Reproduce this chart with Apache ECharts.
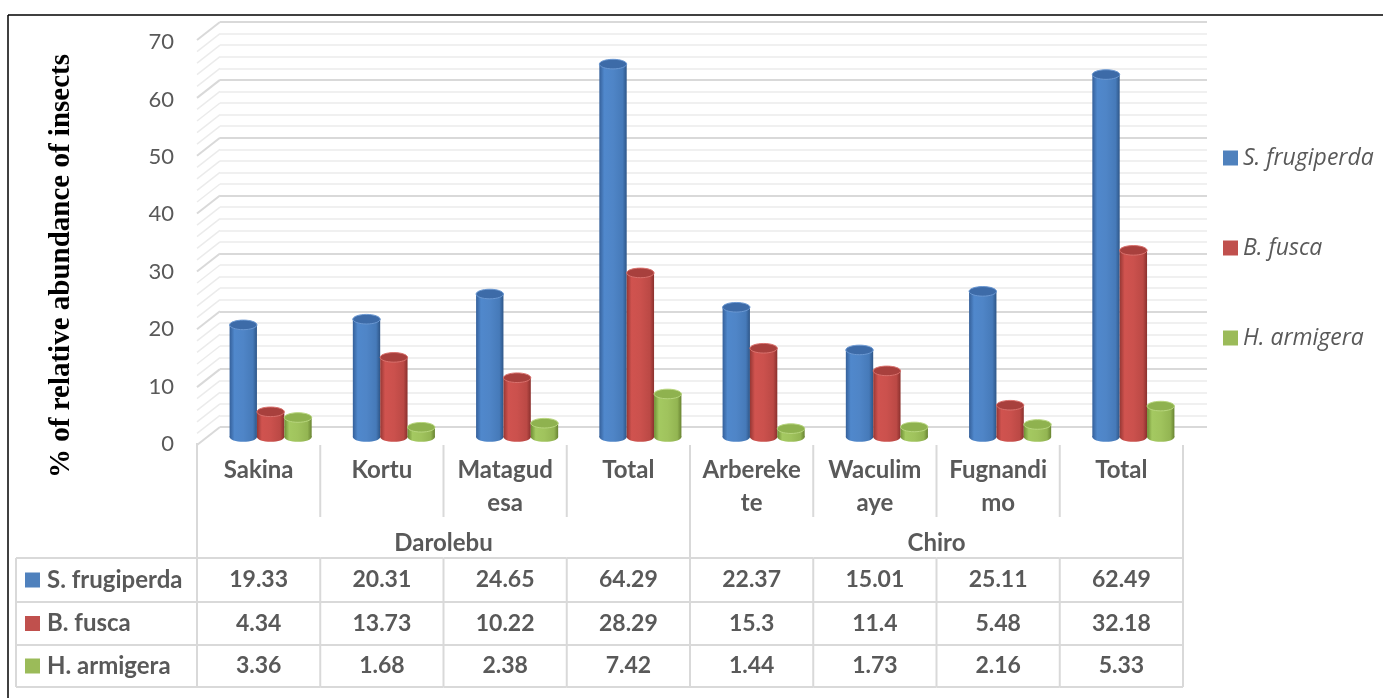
<!DOCTYPE html>
<html>
<head>
<meta charset="utf-8">
<script src="https://cdn.jsdelivr.net/npm/echarts@6/dist/echarts.min.js"></script>
<style>html,body{margin:0;padding:0;background:#fff}#c{width:1383px;height:698px}</style>
</head>
<body>
<div id="c"></div>
<script>
// ---------------- data ----------------
const categories = ['Sakina', 'Kortu', 'Matagudesa', 'Total', 'Arberekete', 'Waculimaye', 'Fugnandimo', 'Total'];
const categoryLabels = ['Sakina', 'Kortu', 'Matagud\nesa', 'Total', 'Arbereke\nte', 'Waculim\naye', 'Fugnandi\nmo', 'Total'];
const groups = ['Darolebu', 'Chiro'];
const seriesNames = ['S. frugiperda', 'B. fusca', 'H. armigera'];
const sFrugiperda = [19.33, 20.31, 24.65, 64.29, 22.37, 15.01, 25.11, 62.49];
const bFusca = [4.34, 13.73, 10.22, 28.29, 15.3, 11.4, 5.48, 32.18];
const hArmigera = [3.36, 1.68, 2.38, 7.42, 1.44, 1.73, 2.16, 5.33];
const yTicks = [0, 10, 20, 30, 40, 50, 60, 70];
const wallLevels = [0, 2, 4, 6, 8, 10, 12, 14, 16, 18, 20, 22, 24, 26, 28, 30, 32, 34, 36, 38, 40,
  42, 44, 46, 48, 50, 52, 54, 56, 58, 60, 62, 64, 66, 68, 70];

// ---------------- styles ----------------
const seriesValues = [sFrugiperda, bFusca, hArmigera];
const palette = [
  { base: '#4f81bd', stops: ['#35609a', '#5088cc', '#4f85c7', '#467ab9', '#2e5688'], top: '#3d6ba8', rim: '#6b98d2' },
  { base: '#c0504d', stops: ['#963734', '#d0534f', '#cb514d', '#bb4945', '#8a302d'], top: '#a8403d', rim: '#d9716d' },
  { base: '#9bbb59', stops: ['#6f8f35', '#a4c961', '#a0c35d', '#93b552', '#698432'], top: '#8fb24f', rim: '#b8d67e' }
];
const gridColor = '#d9d9d9';
const minorColor = '#ebebeb';
const textColor = '#595959';
const uiFont = 'Lato, "Open Sans", sans-serif';

function cylinder(si) {
  return function (params, api) {
    const ci = api.value(0), v = api.value(1);
    const base = api.coord([ci, 0]);
    const top = api.coord([ci, v]);
    const cw = api.size([1, 0])[0];
    const bw = cw * 0.222;
    const x = base[0] - 1.5 * bw + si * bw;
    const cx = x + bw / 2, rx = bw / 2, ry = 4.8;
    const c = palette[si];
    const grad = {
      type: 'linear', x: 0, y: 0, x2: 1, y2: 0,
      colorStops: [
        { offset: 0, color: c.stops[0] }, { offset: 0.18, color: c.stops[1] },
        { offset: 0.5, color: c.stops[2] }, { offset: 0.85, color: c.stops[3] },
        { offset: 1, color: c.stops[4] }
      ]
    };
    return {
      type: 'group',
      children: [
        { type: 'ellipse', shape: { cx: cx, cy: base[1], rx: rx, ry: ry }, style: { fill: grad } },
        { type: 'rect', shape: { x: x, y: top[1], width: bw, height: base[1] - top[1] }, style: { fill: grad } },
        { type: 'ellipse', shape: { cx: cx, cy: top[1], rx: rx, ry: ry }, style: { fill: c.top, stroke: c.rim, lineWidth: 1 } }
      ]
    };
  };
}

function wallSides(params, api) {
  const v = api.value(1);
  const p = api.coord([0, v]);
  return {
    type: 'line',
    shape: { x1: p[0], y1: p[1], x2: p[0] - 23, y2: p[1] + 18 },
    style: { stroke: (v % 10 === 0) ? gridColor : minorColor, lineWidth: (v % 10 === 0) ? 2 : 1.5 }
  };
}

function tableColumn(params, api) {
  const i = api.value(0);
  const cs = params.coordSys;
  const T = cs.y;
  const cx = api.coord([i, 0])[0];
  const cw = api.size([1, 0])[0];
  const xl = cx - cw / 2, xr = cx + cw / 2;
  const ln = { stroke: gridColor, lineWidth: 2 };
  const ch = [];
  const vline = (x, a, b) => ch.push({ type: 'line', shape: { x1: x, y1: T + a, x2: x, y2: T + b }, style: ln });
  const hline = (x1, x2, y) => ch.push({ type: 'line', shape: { x1: x1, y1: T + y, x2: x2, y2: T + y }, style: ln });
  const rowLines = [115, 159, 202, 244];
  const rowCenters = [137, 180.5, 223];

  if (i === 0) {
    vline(xl, 0, 244);
  } else if (i % 4 === 0) {
    vline(xl, 2, 244);
  } else {
    vline(xl, 2, 74);
    vline(xl, 115, 244);
  }
  if (i === categories.length - 1) vline(xr, 2, 244);
  rowLines.forEach(y => hline(xl, xr, y));

  // header label
  ch.push({
    type: 'text', x: cx, y: T + 11,
    style: { text: categoryLabels[i], fill: textColor, font: 'bold 24px ' + uiFont, lineHeight: 33, align: 'center', verticalAlign: 'top' }
  });
  // group label
  if (i % 4 === 0) {
    ch.push({
      type: 'text', x: xl + 2 * cw, y: T + 100,
      style: { text: groups[i / 4], fill: textColor, font: 'bold 24px ' + uiFont, align: 'center', verticalAlign: 'middle' }
    });
  }
  // values
  seriesValues.forEach((arr, si) => {
    ch.push({
      type: 'text', x: cx, y: T + rowCenters[si],
      style: { text: String(arr[i]), fill: textColor, font: 'bold 23px ' + uiFont, align: 'center', verticalAlign: 'middle' }
    });
  });
  // left label column
  if (i === 0) {
    const lx = xl - 181;
    rowLines.forEach(y => hline(lx, xl, y));
    vline(lx, 115, 244);
    seriesNames.forEach((nm, si) => {
      ch.push({ type: 'rect', shape: { x: lx + 9, y: T + rowCenters[si] - 7.5, width: 15, height: 15 }, style: { fill: palette[si].base } });
      ch.push({
        type: 'text', x: lx + 31, y: T + rowCenters[si],
        style: { text: nm, fill: textColor, font: 'bold 24px ' + uiFont, align: 'left', verticalAlign: 'middle' }
      });
    });
  }
  return { type: 'group', children: ch };
}

const chart = echarts.init(document.getElementById('c'), null, { renderer: 'canvas' });
const hidden = { show: false };

chart.setOption({
  animation: false,
  backgroundColor: '#fff',
  grid: [
    { left: 220, right: 176, top: 22, height: 405 },     // back wall
    { left: 209, width: 986, top: 31, height: 406 },     // bars
    { left: 182, width: 10, top: 42, height: 402 },      // y labels
    { left: 197, width: 986, top: 443, height: 244 }     // data table
  ],
  xAxis: [
    { gridIndex: 0, type: 'value', min: 0, max: 1, show: false },
    { gridIndex: 1, type: 'category', data: categories, show: false },
    { gridIndex: 2, type: 'value', min: 0, max: 1, show: false },
    { gridIndex: 3, type: 'category', data: categories, show: false }
  ],
  yAxis: [
    {
      gridIndex: 0, type: 'value', min: 0, max: 70, interval: 10,
      axisLine: hidden, axisTick: hidden, axisLabel: hidden,
      splitLine: { show: true, lineStyle: { color: gridColor, width: 2 } },
      minorTick: { show: false, splitNumber: 5 },
      minorSplitLine: { show: true, lineStyle: { color: minorColor, width: 1.5 } }
    },
    { gridIndex: 1, type: 'value', min: 0, max: 70, show: false },
    {
      gridIndex: 2, type: 'value', min: 0, max: 70, interval: 10,
      axisLine: hidden, axisTick: hidden, splitLine: hidden,
      axisLabel: { show: true, color: textColor, fontSize: 22, fontFamily: uiFont, margin: 8,
        customValues: yTicks }
    },
    { gridIndex: 3, type: 'value', min: 0, max: 1, show: false }
  ],
  legend: {
    data: seriesNames,
    orient: 'vertical',
    left: 1218, top: 141,
    itemWidth: 15, itemHeight: 15, itemGap: 66,
    icon: 'rect',
    selectedMode: false,
    textStyle: { color: textColor, fontSize: 23, fontStyle: 'italic', fontFamily: '"Open Sans", Lato, sans-serif', lineHeight: 24 }
  },
  graphic: [
    { type: 'line', shape: { x1: 8, y1: 15, x2: 1383, y2: 15 }, style: { stroke: '#000', lineWidth: 1.5 } },
    { type: 'line', shape: { x1: 8, y1: 15, x2: 8, y2: 698 }, style: { stroke: '#000', lineWidth: 1.5 } },
    {
      type: 'text', x: 62, y: 266, rotation: Math.PI / 2,
      style: { text: '% of relative abundance of insects', fill: '#000',
        font: 'bold 29px "Liberation Serif", "Times New Roman", serif',
        textAlign: 'center', textVerticalAlign: 'middle' }
    }
  ],
  series: [
    {
      type: 'custom', name: 'wall', xAxisIndex: 0, yAxisIndex: 0, silent: true, z: 1,
      renderItem: wallSides, data: wallLevels.map(v => [0, v])
    },
    ...seriesNames.map((nm, si) => ({
      type: 'custom', name: nm, xAxisIndex: 1, yAxisIndex: 1, z: 3,
      itemStyle: { color: palette[si].base },
      renderItem: cylinder(si),
      data: seriesValues[si].map((v, i) => [i, v])
    })),
    {
      type: 'custom', name: 'table', xAxisIndex: 3, yAxisIndex: 3, silent: true, z: 2,
      renderItem: tableColumn, data: categories.map((c, i) => [i, 0])
    }
  ]
});
</script>
</body>
</html>
